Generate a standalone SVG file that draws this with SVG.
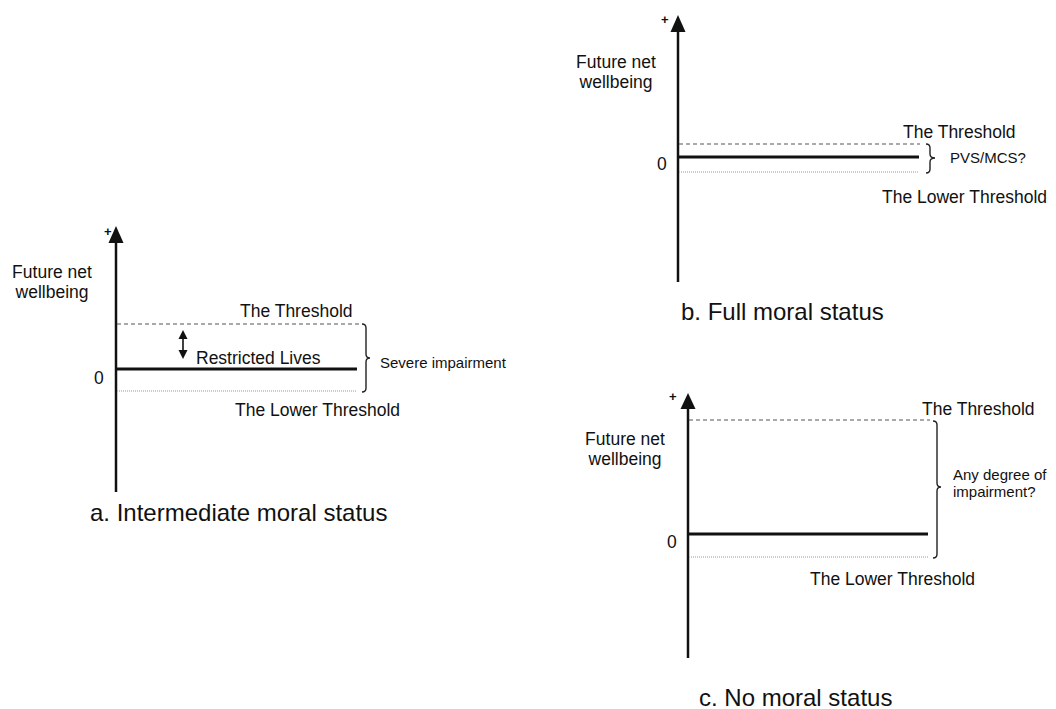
<svg xmlns="http://www.w3.org/2000/svg" width="1056" height="709" viewBox="0 0 1056 709">
<style>
text { font-family: "Liberation Sans", Arial, sans-serif; fill: #111; }
.lbl { font-size: 17.5px; }
.sm { font-size: 15px; }
.cap { font-size: 24px; }
.plus { font-size: 13px; font-weight: bold; }
.axis { stroke: #111; stroke-width: 2.5; fill: none; }
.zero { stroke: #111; stroke-width: 3; fill: none; }
.thr { stroke: #555; stroke-width: 1.2; stroke-dasharray: 4 3; fill: none; }
.low { stroke: #999; stroke-width: 1.2; stroke-dasharray: 1 1; fill: none; }
.brace { stroke: #222; stroke-width: 1.4; fill: none; }
.head { fill: #111; }
</style>
<rect width="1056" height="709" fill="#fff"/>

<g id="panel-a">
  <text class="lbl" x="52" y="278" text-anchor="middle">Future net</text>
  <text class="lbl" x="52" y="298" text-anchor="middle">wellbeing</text>
  <text class="plus" x="104" y="236">+</text>
  <text class="lbl" x="94" y="384">0</text>
  <text class="lbl" x="240" y="317">The Threshold</text>
  <text class="lbl" x="196" y="364">Restricted Lives</text>
  <text class="sm" x="380" y="368">Severe impairment</text>
  <text class="lbl" x="235" y="416">The Lower Threshold</text>
  <text class="cap" x="90" y="521">a. Intermediate moral status</text>
</g>

<g id="panel-b">
  <text class="lbl" x="616" y="68" text-anchor="middle">Future net</text>
  <text class="lbl" x="616" y="88" text-anchor="middle">wellbeing</text>
  <text class="plus" x="661" y="24">+</text>
  <text class="lbl" x="657" y="170">0</text>
  <text class="lbl" x="903" y="138">The Threshold</text>
  <text class="sm" x="950" y="163">PVS/MCS?</text>
  <text class="lbl" x="882" y="203">The Lower Threshold</text>
  <text class="cap" x="681" y="320">b. Full moral status</text>
</g>

<g id="panel-c">
  <text class="lbl" x="625" y="445" text-anchor="middle">Future net</text>
  <text class="lbl" x="625" y="465" text-anchor="middle">wellbeing</text>
  <text class="plus" x="669" y="401">+</text>
  <text class="lbl" x="667" y="548">0</text>
  <text class="lbl" x="922" y="415">The Threshold</text>
  <text class="sm" x="953" y="480">Any degree of</text>
  <text class="sm" x="953" y="497">impairment?</text>
  <text class="lbl" x="810" y="585">The Lower Threshold</text>
  <text class="cap" x="699" y="706">c. No moral status</text>
</g>

<g id="connectors">
  <!-- panel a -->
  <line class="axis" x1="116" y1="240" x2="116" y2="492"/>
  <polygon class="head" points="116,226 108.5,243 123.5,243"/>
  <line class="thr" x1="117" y1="324" x2="359" y2="324"/>
  <line class="zero" x1="117" y1="369" x2="357" y2="369"/>
  <line class="low" x1="117" y1="391" x2="356" y2="391"/>
  <line stroke="#111" stroke-width="1.6" x1="183" y1="336" x2="183" y2="353"/>
  <polygon class="head" points="183,330 178.5,339 187.5,339"/>
  <polygon class="head" points="183,359 178.5,350 187.5,350"/>
  <path class="brace" d="M362,324 Q366,324 366,328 L366,354 Q366,358 370,358 Q366,358 366,362 L366,388 Q366,392 362,392"/>

  <!-- panel b -->
  <line class="axis" x1="678" y1="29" x2="678" y2="282"/>
  <polygon class="head" points="678,15 670.5,32 685.5,32"/>
  <line class="thr" x1="679" y1="144" x2="920" y2="144"/>
  <line class="zero" x1="679" y1="157" x2="919" y2="157"/>
  <line class="low" x1="679" y1="172" x2="919" y2="172"/>
  <path class="brace" d="M926,144 Q930,144 930,148 L930,154 Q930,158 935,158 Q930,158 930,162 L930,169 Q930,173 926,173"/>

  <!-- panel c -->
  <line class="axis" x1="688" y1="406" x2="688" y2="658"/>
  <polygon class="head" points="688,393 680.5,409 695.5,409"/>
  <line class="thr" x1="689" y1="420" x2="930" y2="420"/>
  <line class="zero" x1="689" y1="534" x2="928" y2="534"/>
  <line class="low" x1="689" y1="557" x2="928" y2="557"/>
  <path class="brace" d="M933,421 Q937,421 937,425 L937,483 Q937,487 941,487 Q937,487 937,491 L937,554 Q937,558 933,558"/>
</g>
</svg>
